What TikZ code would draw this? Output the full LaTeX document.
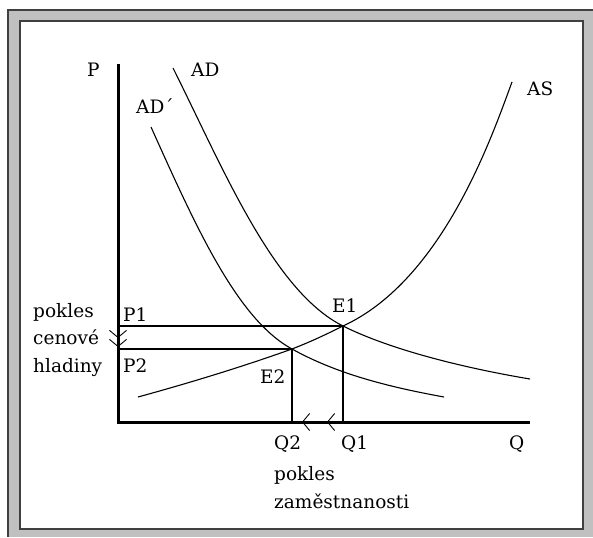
\documentclass[tikz,border=0pt]{standalone}
\usepackage{fontspec}
\setmainfont{DejaVu Serif}
\usepackage{xcolor}
\usepackage{tikz}
\usetikzlibrary{arrows.meta,positioning}
\definecolor{framedark}{HTML}{404040}
\definecolor{framegray}{HTML}{C0C0C0}

\begin{document}
\begin{tikzpicture}[x=1pt, y=-1pt,
  lbl/.style={font=\fontsize{18.5}{20}\selectfont, inner sep=0pt, anchor=base west},
  axis/.style={line width=3pt, line join=miter},
  guide/.style={line width=1.2pt},
  curve/.style={line width=1.1pt},
  drop/.style={line width=0.9pt, -{Straight Barb[length=7pt,width=17pt]}}]
\useasboundingbox (0,0) rectangle (593,537);
% frame
\fill[framegray] (8,10) rectangle (593,537);
\draw[framedark, line width=2pt] (8,537) -- (8,10) -- (593,10);
\filldraw[fill=white, draw=framedark, line width=2pt] (20,21) rectangle (583,529);
% points
\coordinate (O)  at (118,422);
\coordinate (Ptop) at (118,64);
\coordinate (Qend) at (530,422);
\coordinate (E1) at (343,326);
\coordinate (E2) at (292,349);
\coordinate (P1) at (E1 -| O);
\coordinate (P2) at (E2 -| O);
\coordinate (Q1) at (E1 |- O);
\coordinate (Q2) at (E2 |- O);
\coordinate (pmid) at (118,338);
\coordinate (pend) at (118,347);
\coordinate (qmid) at (327,422);
\coordinate (qend) at (302,422);
% axes
\draw[axis] (Ptop) -- (O) -- (Qend);
% guides
\draw[guide] (P1) -- (E1) -- (Q1);
\draw[guide] (P2) -- (E2) -- (Q2);
% curves
\draw[curve] (138,397) .. controls (200,380) and (250,364) .. (E2)
  .. controls (310,342) and (325,335) .. (E1)
  .. controls (443,280) and (492,136) .. (512,82);
\draw[curve] (173,68) .. controls (223,168) and (273,291) .. (E1)
  .. controls (393,351) and (470,369) .. (530,379);
\draw[curve] (151,127) .. controls (196,227) and (237,319) .. (E2)
  .. controls (337,374) and (389,387) .. (444,397);
% drops
\draw[drop] (P1) -- (pmid);
\draw[drop] (pmid) -- (pend);
\draw[drop] (Q1) -- (qmid);
\draw[drop] (qmid) -- (qend);
% labels
\node[lbl] (lP)   at (87,77)  {P};
\node[lbl] (lQ)   at (509,449) {Q};
\node[lbl] (lAD)  at (191,77) {AD};
\node[lbl] (lADn) at (136,114) {AD´};
\node[lbl] (lAS)  at (527,96) {AS};
\node[lbl] (lP1)  at (123,321) {P1};
\node[lbl] (lP2)  at (123,372) {P2};
\node[lbl] (lE1)  at (332,312) {E1};
\node[lbl] (lE2)  at (260,383) {E2};
\node[lbl] (lQ2)  at (274,449) {Q2};
\node[lbl] (lQ1)  at (341,449) {Q1};
\node[lbl] (pc1)  at (33,317) {pokles};
\node[lbl] (pc2)  at (33,344) {cenové};
\node[lbl] (pc3)  at (33,372) {hladiny};
\node[lbl] (pz1)  at (274,480) {pokles};
\node[lbl] (pz2)  at (274,508) {zaměstnanosti};
\end{tikzpicture}
\end{document}
